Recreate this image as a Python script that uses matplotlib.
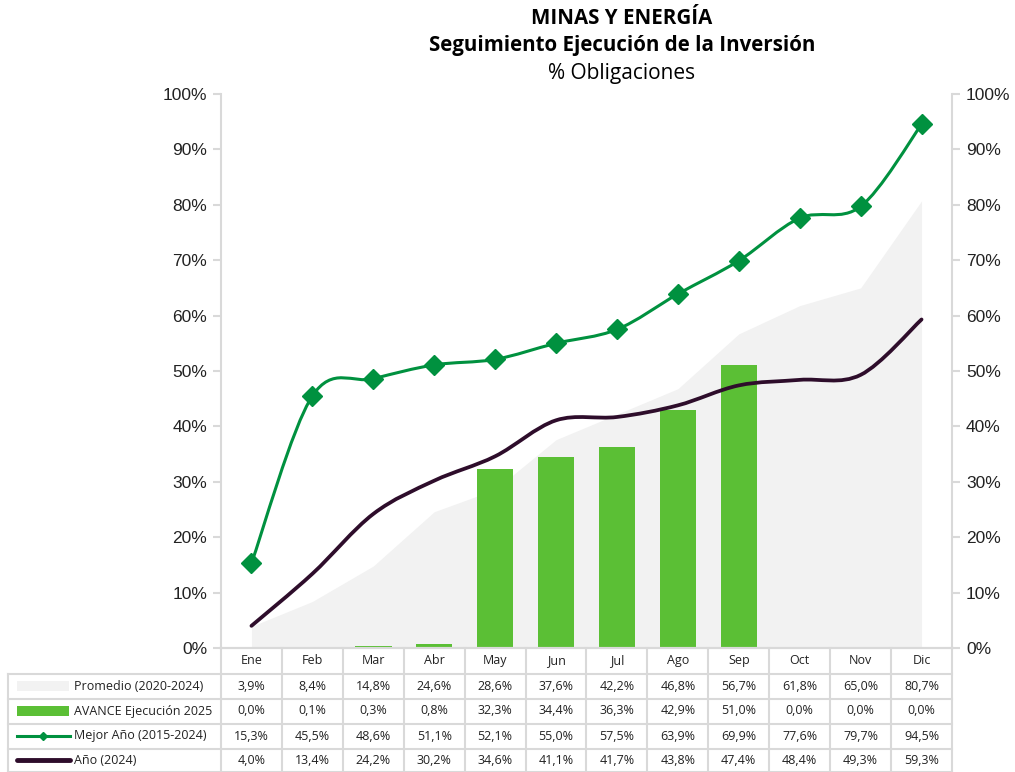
import matplotlib
matplotlib.use("Agg")
import matplotlib.pyplot as plt
from matplotlib.path import Path
from matplotlib.patches import PathPatch, Rectangle
from matplotlib.lines import Line2D
import numpy as np

months = ["Ene", "Feb", "Mar", "Abr", "May", "Jun", "Jul", "Ago", "Sep", "Oct", "Nov", "Dic"]
promedio = [3.9, 8.4, 14.8, 24.6, 28.6, 37.6, 42.2, 46.8, 56.7, 61.8, 65.0, 80.7]
avance = [0.0, 0.1, 0.3, 0.8, 32.3, 34.4, 36.3, 42.9, 51.0, 0.0, 0.0, 0.0]
mejor = [15.3, 45.5, 48.6, 51.1, 52.1, 55.0, 57.5, 63.9, 69.9, 77.6, 79.7, 94.5]
anio = [4.0, 13.4, 24.2, 30.2, 34.6, 41.1, 41.7, 43.8, 47.4, 48.4, 49.3, 59.3]
series_labels = ["Promedio (2020-2024)", "AVANCE Ejecución 2025", "Mejor Año (2015-2024)", "Año (2024)"]

C_AREA = "#F2F2F2"
C_BAR = "#5BBF35"
C_BEST = "#00913F"
C_2024 = "#2E0D2B"
C_GRID = "#D9D9D9"

W, H = 1015, 772
fig = plt.figure(figsize=(W / 100, H / 100), dpi=100)

axL, axR, axT, axB = 221, 952, 94, 648
ax = fig.add_axes([axL / W, 1 - axB / H, (axR - axL) / W, (axB - axT) / H])
x = np.arange(len(months))

ax.fill_between(x, promedio, 0, color=C_AREA, lw=0, zorder=1)
ax.bar(x, avance, width=0.6, color=C_BAR, zorder=2)


def smooth_path(xs, ys):
    pts = np.column_stack([xs, ys]).astype(float)
    n = len(pts)
    verts = [pts[0]]
    codes = [Path.MOVETO]
    for i in range(n - 1):
        p0 = pts[i - 1] if i > 0 else pts[i]
        p1 = pts[i]
        p2 = pts[i + 1]
        p3 = pts[i + 2] if i + 2 < n else pts[i + 1]
        c1 = p1 + (p2 - p0) / 6.0
        c2 = p2 - (p3 - p1) / 6.0
        verts += [c1, c2, p2]
        codes += [Path.CURVE4] * 3
    return Path(verts, codes)


ax.add_patch(PathPatch(smooth_path(x, anio), fill=False, edgecolor=C_2024, lw=2.7,
                       capstyle="round", zorder=3))
ax.add_patch(PathPatch(smooth_path(x, mejor), fill=False, edgecolor=C_BEST, lw=2.2,
                       capstyle="round", zorder=4))
ax.plot(x, mejor, ls="none", marker="D", ms=10, color=C_BEST, zorder=5)

ax.set_xlim(-0.5, len(months) - 0.5)
ax.set_ylim(0, 100)
yt = np.arange(0, 101, 10)
ax.set_yticks(yt)
ax.set_yticklabels([f"{v}%" for v in yt])
ax.set_xticks([])
ax.spines["top"].set_visible(False)
for s in ["left", "right", "bottom"]:
    ax.spines[s].set_color(C_GRID)
    ax.spines[s].set_linewidth(1.5)
ax.tick_params(axis="y", length=6, width=1.5, color=C_GRID, pad=4,
               labelsize=12.5, labelcolor="#222222")
for lab in ax.get_yticklabels():
    lab.set_fontfamily("Liberation Sans")

ax2 = ax.twinx()
ax2.set_ylim(0, 100)
ax2.set_yticks(yt)
ax2.set_yticklabels([f"{v}%" for v in yt])
for s in ["top", "left", "bottom", "right"]:
    ax2.spines[s].set_visible(False)
ax2.tick_params(axis="y", length=6, width=1.5, color=C_GRID, pad=4,
                labelsize=12.5, labelcolor="#222222")
for lab in ax2.get_yticklabels():
    lab.set_fontfamily("Liberation Sans")

# Title
tx = 622 / W
fig.text(tx, 1 - 19 / H, "MINAS Y ENERGÍA", ha="center", va="center",
         fontsize=14.8, fontweight="bold", family="Open Sans")
fig.text(tx, 1 - 46 / H, "Seguimiento Ejecución de la Inversión", ha="center", va="center",
         fontsize=14.8, fontweight="bold", family="Open Sans")
fig.text(tx, 1 - 74 / H, "% Obligaciones", ha="center", va="center",
         fontsize=15, family="Open Sans")

# Data table (pixel coordinate overlay)
ov = fig.add_axes([0, 0, 1, 1], zorder=10)
ov.set_xlim(0, W)
ov.set_ylim(H, 0)
ov.axis("off")

cw = (axR - axL) / len(months)
row_edges = [axB, 673.5, 698.5, 723.5, 748.5, 771.5]
lw_t = 1.5
ov.add_line(Line2D([axL, axR], [row_edges[0], row_edges[0]], color=C_GRID, lw=lw_t))
for yv in row_edges[1:]:
    ov.add_line(Line2D([8, axR], [yv, yv], color=C_GRID, lw=lw_t))
for i in range(len(months) + 1):
    xv = axL + i * cw
    ov.add_line(Line2D([xv, xv], [axB, 772], color=C_GRID, lw=lw_t))
ov.add_line(Line2D([8, 8], [row_edges[1], 772], color=C_GRID, lw=lw_t))

tfont = dict(family="Open Sans", fontsize=9, color="#222222")
for i, m in enumerate(months):
    cx = axL + (i + 0.5) * cw
    ov.text(cx, (row_edges[0] + row_edges[1]) / 2, m, ha="center", va="center", **tfont)

all_rows = [promedio, avance, mejor, anio]
for r, vals in enumerate(all_rows):
    cy = (row_edges[r + 1] + row_edges[r + 2]) / 2
    for i, v in enumerate(vals):
        cx = axL + (i + 0.5) * cw
        ov.text(cx, cy, f"{v:.1f}%".replace(".", ","), ha="center", va="center", **tfont)
    ov.text(74, cy, series_labels[r], ha="left", va="center", **tfont)

ky = [(row_edges[i + 1] + row_edges[i + 2]) / 2 for i in range(4)]
ov.add_patch(Rectangle((17, ky[0] - 5), 52, 10, color=C_AREA, lw=0))
ov.add_patch(Rectangle((17, ky[1] - 5), 52, 10, color=C_BAR, lw=0))
ov.add_line(Line2D([17, 70], [ky[2], ky[2]], color=C_BEST, lw=2.2))
ov.add_line(Line2D([43], [ky[2]], color=C_BEST, marker="D", ms=4, ls="none"))
ov.add_line(Line2D([17, 70], [ky[3], ky[3]], color=C_2024, lw=3.5, solid_capstyle="round"))

fig.savefig("out.png", dpi=100)
